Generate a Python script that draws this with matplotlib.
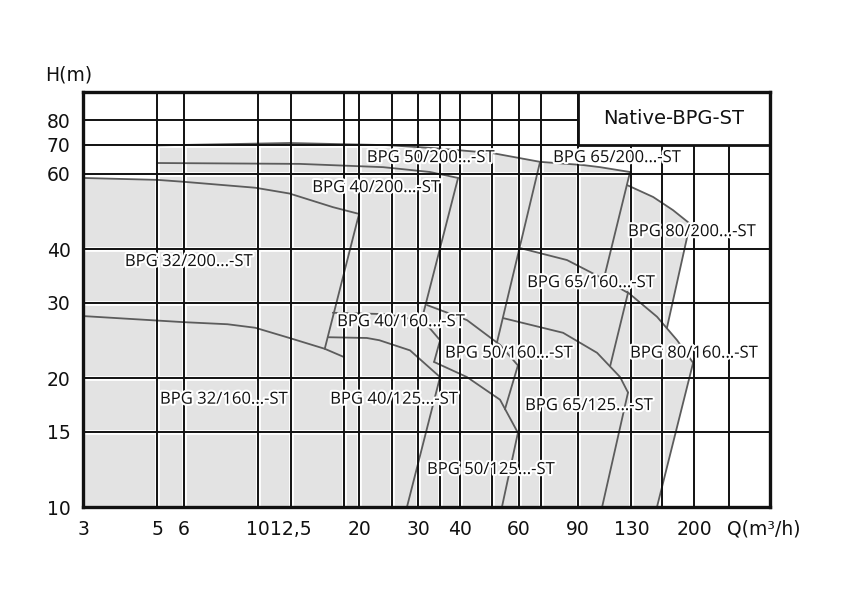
import matplotlib
matplotlib.use("Agg")
import matplotlib.pyplot as plt
import matplotlib.patheffects as pe
from matplotlib.patches import Rectangle
from matplotlib.ticker import NullLocator, NullFormatter
import numpy as np

# ---------------- data (Q in m3/h, H in m) ----------------
q_32_200 = [3, 5, 6, 9.8, 12.4, 16.7, 20]
h_32_200 = [58.6, 58.0, 57.4, 55.6, 53.9, 50.1, 48.3]
q_32_200_edge = [20, 15.8]
h_32_200_edge = [48.3, 23.4]

q_32_160 = [3, 6, 8.1, 9.8, 12.4, 15.8, 18]
h_32_160 = [27.9, 27.0, 26.7, 26.2, 24.8, 23.4, 22.4]

q_40_200 = [5, 13.3, 23.6, 32.6, 39.5]
h_40_200 = [63.5, 63.2, 62.1, 60.5, 58.6]
q_40_200_edge = [39.5, 30.6]
h_40_200_edge = [58.6, 26.9]

q_50_200 = [5, 12.4, 24.2, 33.3, 49.9, 69.4]
h_50_200 = [69.8, 70.7, 69.9, 68.8, 67.0, 63.9]
q_50_200_edge = [69.4, 51.6]
h_50_200_edge = [63.9, 24.2]

q_65_200 = [69.4, 93.3, 104.8, 128.8]
h_65_200 = [63.9, 62.8, 62.1, 60.5]
q_65_200_edge = [128.8, 107.5]
h_65_200_edge = [60.5, 34.0]

q_80_200 = [126.2, 151, 173, 194.6]
h_80_200 = [56.4, 52.9, 49.3, 45.8]
q_80_200_edge = [194.6, 166]
h_80_200_edge = [45.8, 26.2]

q_80_160 = [126.2, 155, 178, 198.7]
h_80_160 = [31.8, 27.8, 24.5, 21.7]
q_80_160_edge = [198.7, 155]
h_80_160_edge = [21.7, 10]

q_65_160 = [60.5, 83.5, 104.8, 127]
h_65_160 = [40.2, 37.7, 34.4, 31.6]
q_65_160_edge = [127, 112.3]
h_65_160_edge = [31.6, 21.3]

q_65_125 = [53.8, 81.3, 102.7, 120.3, 127]
h_65_125 = [27.6, 25.5, 22.9, 20.1, 18.5]
q_65_125_edge = [127, 106.3]
h_65_125_edge = [18.5, 10]

q_40_160 = [16.7, 23.6, 27.0, 31.9, 34.9]
h_40_160 = [28.4, 28.2, 27.8, 26.6, 24.5]
q_40_160_edge = [34.9, 33.5]
h_40_160_edge = [24.5, 21.8]

q_40_125 = [16.2, 21.1, 23.0, 28.4, 34.9]
h_40_125 = [24.9, 24.8, 24.5, 23.2, 20.1]
q_40_125_edge = [34.9, 27.8]
h_40_125_edge = [20.1, 10]

q_50_160 = [31.9, 42.0, 52.7, 59.6]
h_50_160 = [29.6, 27.3, 23.9, 21.4]
q_50_160_edge = [59.6, 54.5]
h_50_160_edge = [21.4, 16.9]

q_50_125 = [33.5, 42.0, 52.7, 59.6]
h_50_125 = [21.8, 20.1, 17.8, 14.9]
q_50_125_edge = [59.6, 53.4]
h_50_125_edge = [14.9, 10]

labels = ["BPG 32/200...-ST", "BPG 50/200...-ST", "BPG 40/200...-ST",
          "BPG 65/200...-ST", "BPG 80/200...-ST", "BPG 65/160...-ST",
          "BPG 40/160...-ST", "BPG 50/160...-ST", "BPG 80/160...-ST",
          "BPG 32/160...-ST", "BPG 40/125...-ST", "BPG 65/125...-ST",
          "BPG 50/125...-ST"]
label_q = [4.0, 21.1, 14.5, 75.9, 127, 63.5, 17.2, 36.1, 128.8, 5.09, 16.4, 62.6, 31.9]
label_h = [37.3, 65.2, 55.5, 65.2, 43.8, 33.3, 27.0, 22.8, 22.8, 17.8, 17.8, 17.2, 12.2]

xticks = [3, 5, 6, 10, 12.5, 20, 30, 40, 60, 90, 130, 200]
xticklabels = ["3", "5", "6", "10", "12,5", "20", "30", "40", "60", "90", "130", "200"]
yticks = [10, 15, 20, 30, 40, 60, 70, 80]
yticklabels = ["10", "15", "20", "30", "40", "60", "70", "80"]
xgrid = [5, 6, 10, 12.5, 18, 20, 25, 30, 35, 40, 50, 60, 70, 90, 130, 160, 200, 255]
ygrid = [15, 20, 30, 40, 60, 70, 80]

title = "Native-BPG-ST"
xmin, xmax = 3, 337
ymin, ymax = 10, 93

# ---------------- figure ----------------
fig = plt.figure(figsize=(8.48, 6.15), dpi=100)
ax = fig.add_axes([0.0979, 0.1756, 0.8101, 0.6748])
ax.set_xscale("log")
ax.set_yscale("log")
ax.set_xlim(xmin, xmax)
ax.set_ylim(ymin, ymax)

# gray operating envelope
poly_q = ([3] + q_32_200[:2] + [5] + q_50_200[1:] + q_65_200[1:] +
          q_80_200 + [q_80_200_edge[1]] + q_80_160[2:] + [q_80_160_edge[1]])
poly_h = ([10] + h_32_200[:2] + [h_50_200[0]] + h_50_200[1:] + h_65_200[1:] +
          h_80_200 + [h_80_200_edge[1]] + h_80_160[2:] + [h_80_160_edge[1]])
ax.fill(poly_q, poly_h, color="#e3e3e3", lw=0, zorder=1)

# grid with white halo
for gx in xgrid:
    ax.axvline(gx, color="white", lw=3.4, zorder=2)
    ax.axvline(gx, color="#111111", lw=1.4, zorder=4)
for gy in ygrid:
    ax.axhline(gy, color="white", lw=3.4, zorder=2)
    ax.axhline(gy, color="#111111", lw=1.4, zorder=4)

curve_col = "#5c5c5c"
curves = [
    (q_32_200, h_32_200), (q_32_200_edge, h_32_200_edge),
    (q_32_160, h_32_160),
    (q_40_200, h_40_200), (q_40_200_edge, h_40_200_edge),
    (q_50_200, h_50_200), (q_50_200_edge, h_50_200_edge),
    (q_65_200, h_65_200), (q_65_200_edge, h_65_200_edge),
    (q_80_200, h_80_200), (q_80_200_edge, h_80_200_edge),
    (q_80_160, h_80_160), (q_80_160_edge, h_80_160_edge),
    (q_65_160, h_65_160), (q_65_160_edge, h_65_160_edge),
    (q_65_125, h_65_125), (q_65_125_edge, h_65_125_edge),
    (q_40_160, h_40_160), (q_40_160_edge, h_40_160_edge),
    (q_40_125, h_40_125), (q_40_125_edge, h_40_125_edge),
    (q_50_160, h_50_160), (q_50_160_edge, h_50_160_edge),
    (q_50_125, h_50_125), (q_50_125_edge, h_50_125_edge),
]
for q, h in curves:
    ax.plot(q, h, color=curve_col, lw=1.3, zorder=3,
            solid_capstyle="round", solid_joinstyle="round")

# title box
ax.add_patch(Rectangle((90, 70), xmax - 90, ymax - 70, facecolor="white",
                       edgecolor="#111111", lw=2.0, zorder=5))
ax.text(np.sqrt(90 * xmax), np.sqrt(70 * ymax), title, ha="center", va="center",
        fontsize=14, family="DejaVu Sans", color="#111111", zorder=6)

# pump labels
for t, lq, lh in zip(labels, label_q, label_h):
    ax.text(lq, lh, t, ha="left", va="center", fontsize=12, family="Open Sans",
            color="#111111", zorder=7,
            path_effects=[pe.withStroke(linewidth=3, foreground="white")])

# ticks
ax.xaxis.set_minor_locator(NullLocator())
ax.yaxis.set_minor_locator(NullLocator())
ax.xaxis.set_minor_formatter(NullFormatter())
ax.yaxis.set_minor_formatter(NullFormatter())
ax.set_xticks(xticks)
ax.set_xticklabels(xticklabels)
ax.set_yticks(yticks)
ax.set_yticklabels(yticklabels)
ax.tick_params(axis="both", length=0, labelsize=13.5, colors="#111111")
ax.tick_params(axis="x", pad=16)
ax.tick_params(axis="y", pad=9)
for lbl in ax.get_xticklabels():
    lbl.set_va("center")

ax.text(-0.0204, 1.041, "H(m)", transform=ax.transAxes, ha="center", va="center",
        fontsize=13.5, color="#111111")
ax.text(250, -0.053, "Q(m³/h)", transform=ax.get_xaxis_transform(), ha="left",
        va="center", fontsize=13.5, color="#111111")

for s in ax.spines.values():
    s.set_linewidth(2.4)
    s.set_color("#111111")
    s.set_zorder(8)

fig.savefig("out.png", dpi=100, facecolor="white")
